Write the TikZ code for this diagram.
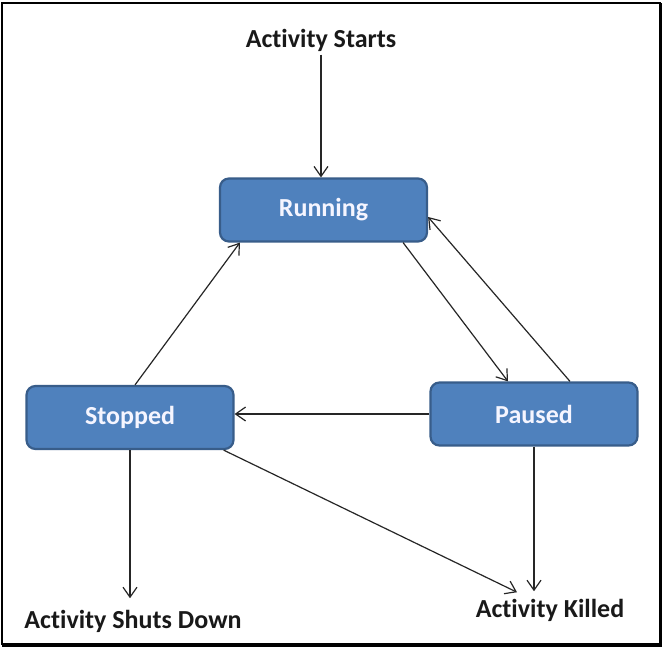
\documentclass[tikz,border=0pt]{standalone}
\usepackage{fontspec}
\setmainfont{Carlito}[Ligatures={NoCommon}]
\usetikzlibrary{arrows.meta}

\definecolor{boxblue}{HTML}{4F81BD}
\definecolor{boxedge}{HTML}{385D8A}

\begin{document}
\begin{tikzpicture}[x=1pt,y=-1pt,
    >={Straight Barb[length=10pt,width=14pt]},
    state/.style={draw=boxedge,fill=boxblue,line width=2.2pt,rounded corners=9pt,
                  minimum width=207pt,minimum height=63pt,inner sep=0pt,text=blue!4},
    event/.style={anchor=base,text=black!90},
    flow/.style={->,line width=1.2pt,black!85}]
    \begin{scope}[every node/.style={font=\fontsize{26}{30}\selectfont\bfseries}]

\useasboundingbox (0,0) rectangle (663,648);
\fill [white] (0,0) rectangle (663,648);
\draw [line width=1.5pt] (2,3) rectangle (660,644);
\draw [line width=3pt]   (660.5,3) -- (660.5,645.5) -- (2,645.5);

\node [state] (running) at (323.5,210) {Running};
\node [state] (stopped) at (130,417.5) {Stopped};
\node [state] (paused)  at (534,414)   {Paused};

\node [event] (starts)  at (321,47)    {Activity Starts};
\node [event] (shuts)   at (133,628)   {Activity Shuts Down};
\node [event] (killed)  at (550,617)   {Activity Killed};

\draw [flow] (starts.south) -- (starts.south |- running.north);
\draw [flow] ([xshift=-25pt]running.south east) -- ([xshift=-26pt]paused.north);
\draw [flow] ([xshift=36pt]paused.north) -- ([yshift=-7pt]running.east);
\draw [flow] ([xshift=5pt]stopped.north) -- ([xshift=21pt]running.south west);
\draw [flow] (paused.west) -- (paused.west -| stopped.east);
\draw [flow] ([xshift=-11pt]stopped.south east) -- ([xshift=-33pt,yshift=3pt]killed.north);
\draw [flow] (paused.south) -- ([yshift=4pt]paused.south |- killed.north);
\draw [flow] (stopped.south) -- ([yshift=8pt]stopped.south |- shuts.north);

    \end{scope}
\end{tikzpicture}
\end{document}
